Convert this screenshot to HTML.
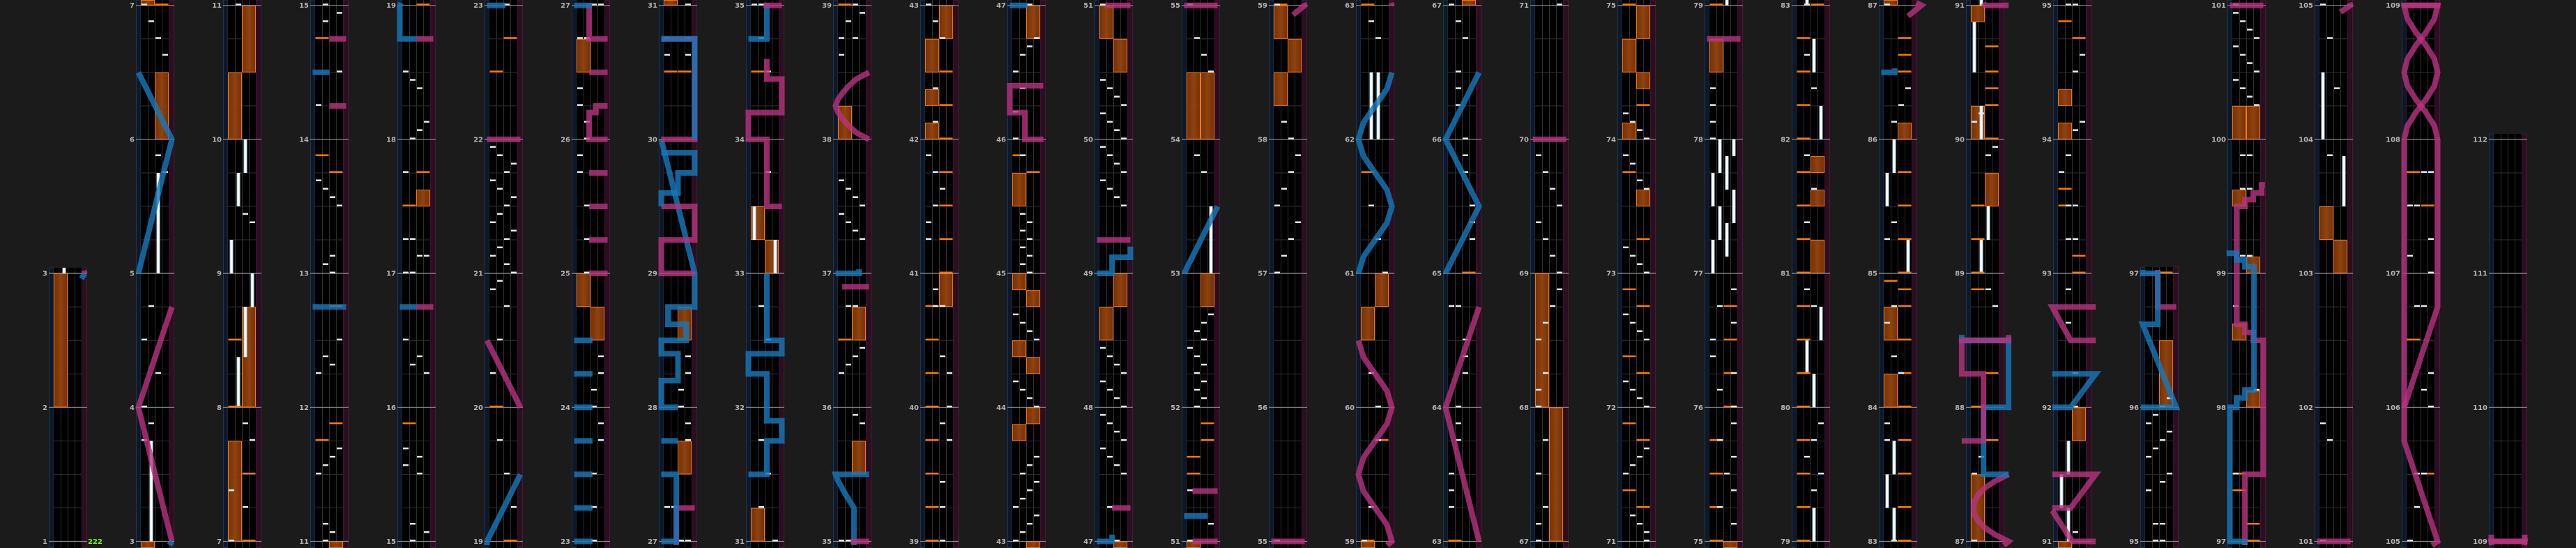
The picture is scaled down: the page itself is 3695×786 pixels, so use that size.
<!DOCTYPE html>
<html>
<head>
<meta charset="utf-8">
<style>
html,body{margin:0;padding:0;background:#1b1b1b;width:3695px;height:786px;overflow:hidden;position:relative;}
svg{display:block;position:absolute;top:0;left:0;}
text{font-family:"DejaVu Sans","Liberation Sans",sans-serif;font-weight:bold;}
</style>
</head>
<body>
<svg id="chart" width="3695" height="786" viewBox="0 0 3695 786" xmlns="http://www.w3.org/2000/svg" overflow="hidden">
<defs>
<linearGradient id="btg" x1="0" x2="1" y1="0" y2="0">
<stop offset="0" stop-color="#9fc6da"/><stop offset="0.35" stop-color="#ffffff"/><stop offset="0.65" stop-color="#ffffff"/><stop offset="1" stop-color="#9fc6da"/>
</linearGradient>
<linearGradient id="fxg" x1="0" x2="1" y1="0" y2="0">
<stop offset="0" stop-color="#7a3508"/><stop offset="0.5" stop-color="#98460f"/><stop offset="1" stop-color="#7a3508"/>
</linearGradient>
</defs>
</svg>
<script>
// ---- layout of columns (measure at bottom line of each column, clip top) ----
const columnStarts = [1,3,7,11,15,19,23,27,31,35,39,43,47,51,55,59,63,67,71,75,79,83,87,91,95,97,101,105,109];
const columnTops = [384,0,0,0,0,0,0,0,0,0,0,0,0,0,0,0,0,0,0,0,0,0,0,0,383,0,0,0,192];

// ---- FX holds: [start, end, side(0=L,1=R)] ----
const fxHolds = [[2,3,0],[6,6.5,1],[7,7.75,0],[8,8.75,1],[10,10.5,0],[10.5,11,1],[17.5,17.625,1],[24.5,24.75,1],[24.75,25,0],[26.5,26.75,0],[27.5,27.75,1],[28.5,28.75,1],[31,31.25,0],[33,33.25,1],[33.25,33.5,0],[35.5,35.75,1],[36.5,36.75,1],[38,38.25,0],[40.75,41,1],[42,42.125,0],[42.25,42.375,0],[42.5,42.75,0],[42.75,43,1],[43.75,43.875,0],[43.875,44,1],[44.25,44.375,1],[44.375,44.5,0],[44.75,44.875,1],[44.875,45,0],[45.5,45.75,0],[46.75,47,1],[48.5,48.75,0],[48.75,49,1],[50.5,50.75,1],[50.75,51,0],[52.75,53,1],[54,54.5,0],[54,54.5,1],[58.25,58.5,0],[58.5,58.75,1],[58.75,59,0],[60.5,60.75,0],[60.75,61,1],[67,68,1],[68,69,0],[73.5,73.625,1],[74,74.125,0],[74.375,74.5,1],[74.5,74.75,0],[74.75,75,1],[78.5,78.75,0],[81,81.25,1],[81.5,81.625,1],[81.75,81.875,1],[84,84.25,0],[84.5,84.75,0],[86,86.125,1],[87,87.5,0],[89.5,89.75,1],[90,90.25,0],[90.875,91,0],[91.75,92,1],[94,94.125,0],[94.25,94.375,0],[96,96.5,1],[98,98.125,1],[98.5,98.625,0],[99,99.125,1],[99.5,99.625,0],[100,100.25,0],[100,100.25,1],[103,103.25,1],[103.25,103.5,0]];

// ---- BT holds: [start, end, lane] ----
const btHolds = [[3,3.75,1],[5,5.75,2],[8,8.375,1],[8.375,8.75,2],[8.75,9,3],[9,9.25,0],[9.5,9.75,1],[9.75,10,2],[33,33.25,3],[33.25,33.5,0],[53,53.5,3],[62,62.5,1],[62,62.5,2],[77,77.25,0],[77.25,77.5,1],[77.5,77.75,0],[77.75,78,1],[77.125,77.375,2],[77.625,77.875,2],[77.375,77.625,3],[77.875,78,3],[79,79.25,2],[80,80.25,2],[80.25,80.5,1],[80.5,80.75,3],[82,82.25,3],[82.5,82.75,2],[83,83.25,1],[83.25,83.5,0],[83.5,83.75,1],[85,85.25,3],[85.5,85.75,0],[85.75,86,1],[89,89.25,1],[89.25,89.5,2],[90,90.25,1],[90.5,90.875,0],[91,91.25,1],[91.25,91.5,0],[91.5,91.75,1],[103.5,103.875,3],[104,104.5,0]];

// ---- BT chips: [time, lane] ----
const btChips = [[3.75,0],[3.875,1],[4,0],[4.25,2],[4.5,0],[4.75,1],[5.75,3],[5.875,2],[6.625,3],[6.75,2],[6.875,1],[7,0],
[7.25,2],[7.375,0],[7.75,3],[7.875,2],[9.375,3],[9.4375,2],[11,1],
[11.0625,2],[11.125,1],[11.5,0],[11.5625,1],[11.625,2],[11.6875,3],[12.25,0],[12.3125,2],[12.375,1],[12.5,3],[13,2],[13.0625,1],[13.125,2],[13.5,3],[13.5625,2],[13.625,1],[13.6875,0],[14.25,0],[14.5,3],[14.875,1],[14.9375,3],[15,1],
[15.0625,3],[15.125,1],[15.5,2],[15.5625,0],[15.625,2],[15.6875,0],[16.25,3],[16.3125,1],[16.375,2],[16.5,0],[17,0],[17,1],[17.125,2],[17.125,3],[17.25,0],[17.25,1],[17.75,0],[18,1],[18.0625,2],[18.125,3],[18.375,2],[18.4375,1],[18.5,0],
[19.25,3],[19.5,2],[19.75,1],[20.25,0],[20.5,1],[20.75,2],[20.875,0],[20.9375,1],[21,3],[21.0625,2],[21.125,0],[21.1875,1],[21.25,2],[21.3125,3],[21.375,0],[21.4375,1],[21.5,2],[21.5625,3],[21.625,1],[21.6875,0],[21.75,2],[21.8125,3],[21.875,1],[21.9375,0],[23,2],
[23.25,2],[23.5,2],[23.75,3],[23.875,3],[24,2],[24.125,2],[24.25,3],[24.375,3],[25,1],[25.25,1],[25.5,1],[25.75,0],[25.875,0],[26,1],[26.125,1],[26.25,0],[26.375,0],[26.75,0],[26.75,1],[27,2],[27,3],
[27.25,0],[27.25,1],[27.75,3],[27.875,3],[28,2],[28.125,2],[28.25,3],[28.375,3],[30.625,0],[30.625,3],[30.75,0],[30.75,3],[31,3],
[31.25,1],[31.5,2],[31.75,1],[32.5,2],[32.75,1],[33.75,2],[34.5,2],[34.75,1],
[35,0],[35,1],[35.875,3],[35.9375,2],[36.25,0],[36.3125,1],[36.375,2],[36.4375,3],[36.75,1],[36.75,2],[37.25,3],[37.3125,2],[37.375,1],[37.4375,0],[37.5,3],[37.5625,2],[37.625,1],[37.6875,0],[38.625,0],[38.75,0],[38.75,2],[38.875,1],[38.9375,3],[39,2],
[39.25,2],[39.4375,2],[39.75,3],[39.875,2],[40,3],[40.25,3],[40.375,2],[40.75,1],[40.875,1],[40.75,2],[41.25,0],[41.375,0],[41.5,1],[41.625,2],[41.75,1],[41.875,0],[42.125,1],[42.375,1],[42.75,2],[42.875,1],[43,0],
[43.0625,1],[43.125,2],[43.1875,3],[43.25,0],[43.3125,1],[43.375,2],[43.4375,3],[43.5,1],[43.5625,2],[43.625,3],[44,3],[44.0625,2],[44.125,1],[44.1875,0],[44.5,3],[44.5625,2],[44.625,1],[44.6875,0],[45,2],[45.0625,1],[45.125,2],[45.1875,1],[45.25,2],[45.3125,1],[45.375,2],[45.4375,1],[45.875,1],[46,0],[46.2,0],[46.375,1],[46.5,0],[46.625,1],[46.6875,2],[46.75,3],[47,2],
[47.25,1],[47.5,3],[47.5625,2],[47.625,1],[47.6875,0],[47.75,3],[47.8125,2],[47.875,1],[47.9375,0],[48,3],[48.0625,2],[48.125,1],[48.1875,0],[48.25,3],[48.3125,2],[48.375,1],[48.4375,0],[49.5,3],[49.5625,2],[49.625,1],[49.6875,0],[49.75,3],[49.8125,2],[49.875,1],[49.9375,0],[50,3],[50.0625,2],[50.125,1],[50.1875,0],[50.25,3],[50.3125,2],[50.375,1],[50.4375,0],[51,0],
[51.125,3],[51.375,0],[52,1],[52.0625,2],[52.125,1],[52.1875,2],[52.25,1],[52.3125,2],[52.375,1],[52.4375,0],[52.5,2],[52.5625,1],[52.625,2],[52.6875,3],[53.75,2],[53.875,1],[54.5,3],[54.625,2],[54.75,1],[55,0],
[57,0],[57.125,1],[57.25,2],[57.375,3],[57.5,0],[57.625,1],[57.75,2],[57.875,3],[58,2],[58.125,1],[59,0],
[59.25,1],[59.75,2],[60,2],[60.25,1],[61,3],[61.25,2],[61.5,1],[62.75,2],[62.875,1],
[63.25,0],[63.375,0],[63.5,0],[63.75,1],[63.875,1],[64,1],[64.25,2],[64.375,2],[64.5,2],[64.75,0],[64.75,1],[65.25,3],[65.375,3],[65.5,3],[65.75,2],[65.875,2],[66,2],[66.25,1],[66.375,1],[66.5,1],[66.75,2],[66.875,1],[67,0],
[67.125,0],[67.25,1],[67.5,0],[67.75,1],[68,0],[68.125,0],[68.25,1],[68.5,0],[68.625,1],[68.75,2],[68.875,3],[69,3],[69.125,2],[69.25,1],[69.375,0],[69.5,3],[69.625,2],[69.75,1],[69.875,0],[71,3],
[71.0625,3],[71.125,2],[71.1875,1],[71.5,0],[71.5625,1],[71.625,2],[71.6875,3],[72,3],[72.0625,2],[72.125,1],[72.1875,0],[72.5,3],[72.5625,2],[72.625,1],[72.6875,0],[73,3],[73.0625,2],[73.125,1],[73.1875,0],[73.625,3],[73.6875,2],[73.8125,1],[73.875,0],[74,3],[74.0625,2],[74.125,1],[74.1875,0],
[75.125,3],[75.25,1],[75.375,3],[75.5,2],[75.625,3],[75.75,1],[75.875,3],[76,3],[76.125,1],[76.25,3],[76.375,0],[76.5,0],[76.625,3],[76.75,1],[76.875,3],[78,0],[78.125,0],[78.25,0],[78.375,0],
[79.375,2],[79.5,3],[79.625,1],[79.75,2],[79.875,3],[80.75,2],[80.875,1],[81.375,1],[81.625,2],[81.875,1],[82.375,2],[82.625,1],[83,1],
[83.75,0],[83.875,0],[84.25,2],[84.375,1],[84.625,0],[84.75,1],[85.25,0],[85.375,1],[86.125,1],[86.25,2],[86.375,3],[87,0],
[87.5,0],[87.625,1],[88.75,3],[88.875,2],[89.875,2],[89.9375,3],[90.125,0],[90.1875,1],
[91.0625,2],[92,2],[92.25,2],[92.625,1],[92.875,1],[93.25,1],[93.25,2],[93.5,1],[93.5,2],[93.75,0],[93.875,1],[94.0625,2],[94.125,3],[94.5,2],[94.625,3],[95,1],[95,2],
[95.125,1],[95.125,2],[95.375,0],[95.4375,2],[95.5,3],[95.625,0],[95.6875,1],[95.75,2],[95.8125,3],[95.875,0],[95.9375,1],[96,2],[96.0625,3],
[97.5,0],[98.75,0],[98.125,3],[99.125,1],[99.125,2],[99.625,1],[99.625,2],[99.875,1],[99.875,2],[100.25,3],[100.3125,2],[100.375,1],[100.4375,0],[100.5,3],[100.5625,2],[100.625,1],[100.6875,0],[100.75,3],[100.8125,2],[100.875,1],[100.9375,0],
[101,0],[101.75,1],[101.875,0],[103.875,1],[104.375,2],[104.75,1],[105,0],
[105.25,1],[105.5,1],[105.5,2],[106,3],[106.125,2],[106.25,3],[106.75,1],[106.75,2],[107,3],[107.125,0],[107.25,3],[107.5,0],[107.5,1],[107.75,2],[107.75,3]];

// ---- FX chips: [time, side] ----
const fxChips = [[7,1],[7.5,1],[8,0],[8.5,0],[11.75,0],[11.875,1],[12.75,1],[13.75,1],[13.875,0],[14.75,0],[15.875,0],[17.5,0],[17.75,1],[19,1],[20,0],[22.5,0],[22.75,1],[30.5,0],[30.5,1],[34.5,0],[36.5,0],[39,0],
[39.25,0],[39.5,0],[39.75,0],[40,0],[40.25,0],[40.5,0],[40.75,0],[41,1],[41.25,1],[41.5,1],[41.75,1],[42,1],[42.25,1],[42.5,1],[45.75,1],[45.875,0],[51.5,0],[51.625,0],[51.75,1],[51.875,1],[59,0],[59.75,1],[61.75,0],[63,0],[65,1],
[71.25,1],[71.375,0],[71.75,1],[71.875,0],[72.25,1],[72.375,0],[72.75,1],[72.875,0],[73.25,1],[73.75,0],[74.25,1],
[75,0],[75.25,0],[75.5,0],[75.75,0],[76,1],[76.25,1],[76.5,1],[76.75,1],
[79,0],[79.25,0],[79.5,0],[79.75,0],[80,0],[80.25,0],[80.5,0],[80.75,0],[81,0],[81.25,0],[81.5,0],[81.75,0],[82,0],[82.25,0],[82.5,0],[82.75,0],[83,1],
[83.25,1],[83.5,1],[83.75,1],[84,1],[84.25,1],[84.5,1],[84.75,1],[84.875,1],[84.9375,0],[85,1],[85.25,1],[85.5,1],[85.75,1],[86.5,1],[86.625,1],[86.75,1],
[87.75,1],[88,0],[88.25,1],[88.875,0],[89,0],[89.25,0],[89.5,0],[90,1],[90.25,1],[90.375,1],[90.5,1],[90.6875,1],
[93,1],[93.125,1],[93.5,0],[93.625,0],[94.75,1],[94.875,0],[97,1],[97.375,0],[97.5,0],[97.125,1],[97.0,1],[105.5,1],[106.5,0],[107.5,1],[107.75,0]];

// ---- Lasers: colour + points [time, x(0..1)] ----
const laserColors = ['p','b','b','b','p','p','b','p','b','p','p','p',
'b','b','b','b','b','b','b','p','p','p','p','p','p','p','b','b','b','p','b','p','b',
'b','p','b','p','p','b','p','p','b','p','b','p','p','b','p','b','p',
'p','b','p','b','p','p','p','b','p','p','p','b','p','b','p','b','p','p','b'];
const laserPoints = [
[[3,1],[4,0],[4.75,1]],
[[5,0],[6,1],[6.5,0]],
[[12.75,0],[12.75,1]],
[[14.5,0],[14.5,0.5]],
[[14.25,1],[14.25,0.5]],
[[14.75,1],[14.75,0.5]],
[[16.75,0],[16.75,0.5]],
[[16.75,0.5],[16.75,1]],
[[18.75,0.5],[18.75,0],[19,0],[19.5,1]],
[[18.75,0.5],[18.75,1]],
[[20,1],[20.5,0]],
[[22,0],[22,1]],
[[23,0],[23,0.55]],
[[23.25,0],[23.25,0.55]],
[[23.5,0],[23.5,0.55]],
[[23.75,0],[23.75,0.55]],
[[24,0],[24,0.55]],
[[24.25,0],[24.25,0.55]],
[[24.5,0],[24.5,0.55]],
[[25,0.45],[25,1]],
[[25.25,0.45],[25.25,1]],
[[25.5,0.45],[25.5,1]],
[[25.75,0.45],[25.75,1]],
[[26,1],[26,0.45],[26.2,0.45],[26.2,0.65],[26.25,0.65],[26.25,1]],
[[26.5,0.45],[26.5,1]],
[[26.75,1],[26.75,0.45],[27.25,0.45],[27.25,1]],
[[27,0],[27,0.45],[27.5,0.45],[27.5,0]],
[[27.75,0],[27.75,0.5]],
[[28,0.5],[28,0],[28.2,0],[28.2,0.5],[28.4,0.5],[28.4,0],[28.5,0],[28.5,0.75],[28.62,0.75],[28.62,0.2],[28.75,0.2],[28.75,1],[29,1],[30,0]],
[[29,1],[29,0],[29.25,0],[29.25,1],[29.5,1],[29.5,0]],
[[29.5,0],[29.6,0],[29.6,0.5],[29.75,0.5],[29.75,1],[29.9,1],[29.9,0]],
[[30,0],[30,1],[30.75,1],[30.75,0]],
[[30,1],[30.75,1],[30.75,0]],
[[31.5,0],[31.5,0.55],[31.75,0.55],[31.75,1],[31.9,1],[31.9,0.55],[32.25,0.55],[32.25,0],[32.4,0],[32.4,1],[32.5,1],[32.5,0.55],[33,0.55]],
[[33.5,1],[33.5,0.55],[34,0.55],[34,0],[34.2,0],[34.2,1],[34.45,1],[34.45,0.55],[34.6,0.55]],
[[34.75,0],[34.75,0.55],[35.25,0.55],[35.35,0.3],[35.45,0.08],[35.5,0],[35.5,1]],
[[35,0.45],[35,1]],
[[36.9,0.2],[36.9,1]],
[[37,0],[37,0.7],[37.03,0.7]],
[[38,1],[38.05,0.62],[38.1,0.4],[38.15,0.22],[38.2,0.08],[38.25,0],[38.3,0.08],[38.35,0.22],[38.4,0.4],[38.45,0.62],[38.5,1]],
[[46,1],[46,0.45],[46.2,0.45],[46.2,0],[46.4,0],[46.4,1]],
[[47,0],[47,0.45],[47.05,0.45]],
[[47.25,0.45],[47.25,1]],
[[49,0],[49,0.45],[49.12,0.45],[49.12,1],[49.2,1]],
[[49.25,0],[49.25,1]],
[[51,0.25],[51,1]],
[[51.19,0],[51.19,0.7]],
[[51.375,0.25],[51.375,1]],
[[53,0],[53.5,1]],
[[55,0],[55,1]],
[[58.93,0.65],[59,1],[59.125,0.85],[59.25,0.5],[59.375,0.15],[59.5,0],[59.625,0.15],[59.75,0.5],[59.875,0.85],[60,1],[60.125,0.85],[60.25,0.5],[60.375,0.15],[60.5,0]],
[[61,0],[61.125,0.15],[61.25,0.5],[61.375,0.85],[61.5,1],[61.625,0.85],[61.75,0.5],[61.875,0.15],[62,0],[62.125,0.15],[62.25,0.5],[62.375,0.85],[62.5,1]],
[[63,1],[64,0],[64.75,1]],
[[65,0],[65.5,1],[66,0],[66.5,1]],
[[70,0],[70,1]],
[[78.75,0],[78.75,1]],
[[86.92,0.8],[87,1.2],[87.05,0.8],[87.1,0.5],[87.15,0.3],[87.2,0.18],[87.25,0.15],[87.3,0.18],[87.35,0.3],[87.4,0.5],[87.45,0.8],[87.5,1.2]],
[[87.5,1.2],[87.5,0.45],[88,0.45],[88,1.2],[88.5,1.2],[88.5,-0.2],[88.54,-0.2]],
[[87.75,-0.2],[87.75,0.45],[88.25,0.45],[88.25,-0.2],[88.5,-0.2],[88.5,1.2],[88.54,1.2]],
[[91,1.2],[91,0.5],[91.23,-0.1]],
[[91.25,-0.1],[91.25,0.45],[91.5,1.2],[91.5,-0.1]],
[[86.5,0],[86.5,0.4],[86.53,0.4]],
[[92.5,1.2],[92.5,0.45],[92.75,-0.1],[92.75,1.2]],
[[92,-0.1],[92,0.45],[92.25,1.2],[92.25,-0.1]],
[[96.75,1],[96.75,0.45],[97,0.45],[97.5,0.45],[97.5,1],[98.5,1],[98.5,0.7],[98.56,0.7],[98.56,0.45],[98.62,0.45],[98.62,0.2],[99.5,0.2],[99.5,0.45],[99.55,0.45],[99.55,0.7],[99.6,0.7],[99.6,0.95],[99.66,0.95],[99.66,1.05]],
[[96,-0.05],[96,1],[96.62,0],[96.62,0.45],[97,0.45],[97,0],[98,0],[98,0.2],[98.07,0.2],[98.07,0.45],[98.13,0.45],[98.13,0.72],[99.05,0.72],[99.05,0.45],[99.1,0.45],[99.1,0.2],[99.15,0.2],[99.15,-0.1]],
[[101,0],[101,1]],
[[104.95,0.7],[105,1],[105.75,0],[108,0],[108.1,0.095],[108.2,0.345],[108.3,0.655],[108.4,0.905],[108.5,1],[108.6,0.905],[108.7,0.655],[108.8,0.345],[108.9,0.095],[109,0],[109,1],[109.05,1]],
[[2.96,0.9],[3,1]],
[[106,0],[106.75,1],[108,1],[108.1,0.905],[108.2,0.655],[108.3,0.345],[108.4,0.095],[108.5,0],[108.6,0.095],[108.7,0.345],[108.8,0.655],[108.9,0.905],[109,1],[109,0],[109.05,0]]
];

const svg = document.getElementById('chart');
const NS = 'http://www.w3.org/2000/svg';
const MH = 192.2, BASE = 776.5;
function el(tag, attrs, parent){
  const e = document.createElementNS(NS, tag);
  for (const k in attrs) e.setAttribute(k, attrs[k]);
  (parent||svg).appendChild(e);
  return e;
}

// clip a polyline (in time) to [t0, t1]; returns list of sub-polylines
function clipPolyline(pts, t0, t1){
  const out = []; let cur = [];
  const lerp = (p, q, t) => [t, p[1] + (q[1]-p[1]) * ((t - p[0]) / (q[0]-p[0]))];
  for (let i = 0; i < pts.length - 1; i++){
    const p = pts[i], q = pts[i+1];
    const lo = Math.min(p[0], q[0]), hi = Math.max(p[0], q[0]);
    if (hi < t0 || lo > t1) { if (cur.length) { out.push(cur); cur = []; } continue; }
    let a = p, b = q;
    if (p[0] !== q[0]) {
      if (a[0] < t0) a = lerp(p, q, t0); else if (a[0] > t1) a = lerp(p, q, t1);
      if (b[0] < t0) b = lerp(p, q, t0); else if (b[0] > t1) b = lerp(p, q, t1);
    }
    if (!cur.length) cur.push(a);
    else { const l = cur[cur.length-1]; if (l[0] !== a[0] || l[1] !== a[1]) { out.push(cur); cur = [a]; } }
    cur.push(b);
    if (b !== q) { out.push(cur); cur = []; }
  }
  if (cur.length > 1) out.push(cur);
  return out.filter(s => s.length > 1);
}

columnStarts.forEach((start, k) => {
  const L = 70 + 125*k;
  const top = columnTops[k];
  const tTop = start + (BASE - top - 4)/MH;
  const tBot = start - (786 - 4 - BASE)/MH;
  const Y = t => BASE - (t - start)*MH;
  const X = x => L + 3.5 + 48*x;
  const g = el('g', {});
  
  

  const lb = el('rect', {x: L+0.5, y: top, width: 6.5, height: 785.5-top, fill: '#0f1828', stroke: '#1d3650', 'stroke-width': 1}, g);
  
  
  const rb = el('rect', {x: L+47, y: top, width: 7.5, height: 785.5-top, fill: '#2b0f20', stroke: '#4a1838', 'stroke-width': 1}, g);
  
  
  const bg = el('rect', {x: L+7, y: top, width: 40, height: 786-top, fill: '#000'}, g);
  
  
  for (let i = 1; i < 4; i++) {
    const ln = el('line', {x1: L+7+10*i+0.5, x2: L+7+10*i+0.5, y1: top, y2: 786, stroke: '#2e2e2e', 'stroke-width': 1}, g);
    
    
  }
  for (let q = Math.ceil(tBot*4); q/4 <= tTop; q++) {
    const t = q/4;
    if (q % 4 === 0) continue;
    const bl = el('line', {x1: L+7, x2: L+47, y1: Y(t), y2: Y(t), stroke: '#303030', 'stroke-width': 1}, g);
    
    
  }
  for (let m = start; m <= tTop + 0.03; m++) {
    const ml = el('line', {x1: L, x2: L+55, y1: Y(m), y2: Y(m), stroke: '#8a8a8a', 'stroke-width': 1.2}, g);
    
    
    const tx = el('text', {x: L-2, y: Y(m)+3.5, 'text-anchor': 'end', 'font-size': 10, fill: '#b4b4b4'});
    tx.textContent = String(m);
    
    
  }
  const tHi = start + (BASE - top)/MH;
  const tLo = start - (786 - BASE)/MH;

  fxHolds.forEach(h => {
    const a = Math.max(h[0], tLo), b = Math.min(h[1], tHi);
    if (b <= a) return;
    const r = el('rect', {x: L+7.5+20*h[2], y: Y(b)+0.5, width: 19, height: Math.max(0,(b-a)*MH-1), fill: 'url(#fxg)', stroke: '#ff7a10', 'stroke-width': 1, opacity: 0.95}, g);
    
    
  });
  btHolds.forEach(h => {
    const a = Math.max(h[0], tLo), b = Math.min(h[1], tHi);
    if (b <= a) return;
    const r = el('rect', {x: L+9.5+10*h[2], y: Y(b), width: 5, height: (b-a)*MH, fill: 'url(#btg)'}, g);
    
    
  });
  fxChips.forEach(c => {
    if (c[0] < tLo + 0.01 || c[0] > tHi - 0.01) return;
    const r = el('rect', {x: L+7.5+20*c[1], y: Y(c[0])-2.5, width: 19, height: 2.5, fill: '#ff7a00'}, g);
    
    
  });
  btChips.forEach(c => {
    if (c[0] < tLo + 0.01 || c[0] > tHi - 0.01) return;
    const r = el('rect', {x: L+8+10*c[1], y: Y(c[0])-2.5, width: 8, height: 2.5, fill: '#e4ecf2'}, g);
    
    
  });
  laserPoints.forEach((pts, i) => {
    const blue = laserColors[i] === 'b';
    clipPolyline(pts, tBot, tTop).forEach(seg => {
      const pl = el('polyline', {points: seg.map(p => X(p[1]).toFixed(1)+','+Y(p[0]).toFixed(1)).join(' '),
        fill: 'none', stroke: blue ? '#1778b8' : '#b8337f', 'stroke-width': 8, 'stroke-opacity': blue ? 0.82 : 0.8,
        'stroke-linejoin': 'miter', 'stroke-linecap': 'butt'}, g);
      
      
    });
  });
});

const bpm = el('text', {x: 126, y: 780, 'font-size': 10, fill: '#7cfc00'});
bpm.textContent = '222';


</script>
</body>
</html>
